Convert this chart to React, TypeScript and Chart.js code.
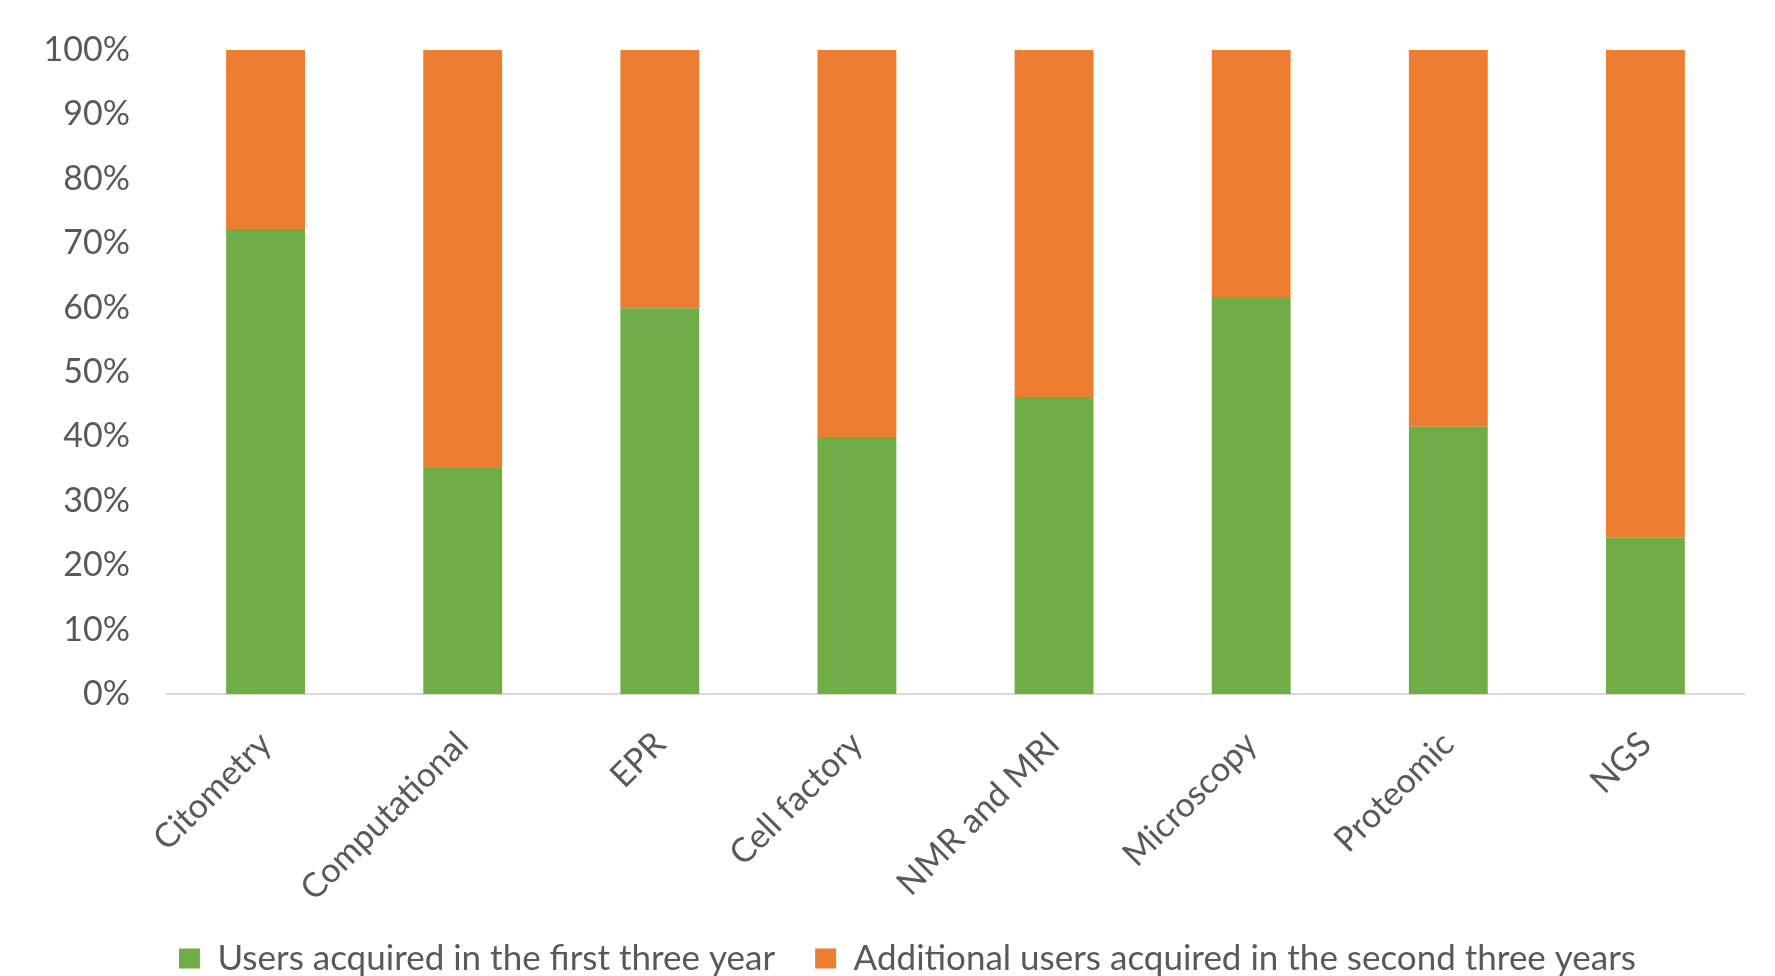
import React, { useEffect, useRef } from "react";
import { Chart, registerables } from "chart.js";

Chart.register(...registerables);

const categories = [
  "Citometry",
  "Computational",
  "EPR",
  "Cell factory",
  "NMR and MRI",
  "Microscopy",
  "Proteomic",
  "NGS",
];
const firstThreeYears = [72.2, 35.1, 59.9, 39.9, 46.1, 61.5, 41.5, 24.3];
const secondThreeYears = [27.8, 64.9, 40.1, 60.1, 53.9, 38.5, 58.5, 75.7];
const seriesLabels = [
  "Users acquired in the first three year",
  "Additional users acquired in the second three years",
];
const yTickStep = 10;
const yMax = 100;

const FONT = "Lato, 'Liberation Sans', sans-serif";
const TEXT = "#595959";

export default function App() {
  const ref = useRef<HTMLCanvasElement | null>(null);

  useEffect(() => {
    if (!ref.current) return;
    const chart = new Chart(ref.current, {
      type: "bar",
      data: {
        labels: categories,
        datasets: [
          {
            label: seriesLabels[0],
            data: firstThreeYears,
            backgroundColor: "#70AD47",
            borderWidth: 0,
            categoryPercentage: 1,
            barPercentage: 0.4,
          },
          {
            label: seriesLabels[1],
            data: secondThreeYears,
            backgroundColor: "#ED7D31",
            borderWidth: 0,
            categoryPercentage: 1,
            barPercentage: 0.4,
          },
        ],
      },
      options: {
        animation: false,
        responsive: true,
        maintainAspectRatio: false,
        layout: { padding: { top: 50, left: 40, right: 0, bottom: 0 } },
        plugins: {
          tooltip: { enabled: false },
          legend: {
            position: "bottom",
            labels: {
              boxWidth: 21,
              boxHeight: 20,
              padding: 40,
              color: TEXT,
              font: { family: FONT, size: 35 },
            },
          },
        },
        scales: {
          x: {
            stacked: true,
            grid: { display: false, drawTicks: false },
            border: { display: true, color: "#d9d9d9", width: 2 },
            ticks: {
              color: TEXT,
              font: { family: FONT, size: 34 },
              maxRotation: 45,
              minRotation: 45,
              padding: 30,
              autoSkip: false,
            },
            afterFit: (scale: any) => {
              scale.height = 207;
            },
          },
          y: {
            stacked: true,
            min: 0,
            max: yMax,
            grid: { display: false, drawTicks: true, tickLength: 37 },
            border: { display: false },
            ticks: {
              stepSize: yTickStep,
              color: TEXT,
              padding: 0,
              font: { family: FONT, size: 34 },
              callback: (v: any) => v + "%",
            },
            afterFit: (scale: any) => {
              scale.width = 127;
            },
          },
          yRight: {
            position: "right",
            min: 0,
            max: yMax,
            grid: { display: false, drawTicks: false },
            border: { display: false },
            ticks: { display: false },
            afterFit: (scale: any) => {
              scale.width = 31;
            },
          },
        },
      },
    });
    return () => chart.destroy();
  }, []);

  return (
    <div
      style={{
        position: "fixed",
        left: 0,
        top: 0,
        width: 1775,
        height: 976,
        overflow: "hidden",
        background: "#fff",
      }}
    >
      <div style={{ position: "relative", width: 1775, height: 986 }}>
        <canvas ref={ref} />
      </div>
    </div>
  );
}
